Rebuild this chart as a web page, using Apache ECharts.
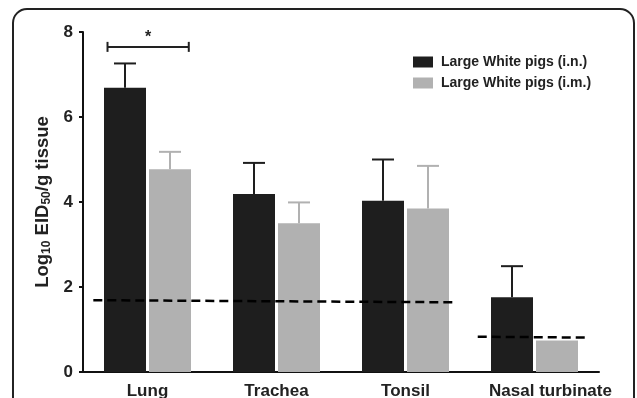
<!DOCTYPE html>
<html>
<head>
<meta charset="utf-8">
<script src="https://cdn.jsdelivr.net/npm/echarts@6/dist/echarts.min.js"></script>
<style>html,body{margin:0;padding:0;background:#fff}#c{width:637px;height:398px}</style>
</head>
<body>
<div id="c"></div>
<script>
var categories = ['Lung', 'Trachea', 'Tonsil', 'Nasal turbinate'];
var seriesNames = ['Large White pigs (i.n.)', 'Large White pigs (i.m.)'];
var inMeans = [6.69, 4.19, 4.03, 1.76];
var inErrTop = [7.26, 4.92, 5.00, 2.49];
var imMeans = [4.77, 3.50, 3.85, 0.74];
var imErrTop = [5.18, 3.99, 4.85, null];
var yTicks = [0, 2, 4, 6, 8];
// detection-limit lines, in category-span coordinates (0..4)
var limitLine1 = [[0.08, 1.69], [2.88, 1.64]];
var limitLine2 = [[3.06, 0.83], [3.91, 0.81]];
// significance bracket (Lung i.n. vs i.m.)
var bracket = [[0.19, 7.65], [0.505, 7.65], [0.82, 7.65]];
var bracketLabel = '*';

var BLACK = '#1e1e1e', GRAY = '#b1b1b1';
var BAR_W = 42, GAP = 3;

function errSeries(means, tops, color, sign) {
  var data = [];
  for (var i = 0; i < means.length; i++) {
    if (tops[i] != null) data.push([i, means[i], tops[i]]);
  }
  return {
    type: 'custom',
    xAxisIndex: 0, yAxisIndex: 0,
    z: 1,
    data: data,
    renderItem: function (params, api) {
      var c = api.value(0);
      var p0 = api.coord([c, api.value(1)]);
      var p1 = api.coord([c, api.value(2)]);
      var x = p0[0] + sign * (BAR_W / 2 + GAP / 2);
      var hw = 11;
      var st = {stroke: color, lineWidth: 2};
      return {
        type: 'group',
        children: [
          {type: 'line', shape: {x1: x, y1: p0[1], x2: x, y2: p1[1]}, style: st},
          {type: 'line', shape: {x1: x - hw, y1: p1[1], x2: x + hw, y2: p1[1]}, style: st}
        ]
      };
    }
  };
}

var chart = echarts.init(document.getElementById('c'));
var fontFam = 'Liberation Sans, Arial, sans-serif';
chart.setOption({
  animation: false,
  backgroundColor: '#fff',
  grid: {left: 83, right: 38, top: 32, bottom: 26, containLabel: false, outerBoundsMode: 'none'},
  legend: {
    data: seriesNames,
    orient: 'vertical',
    left: 413, top: 55, padding: 0,
    itemWidth: 20, itemHeight: 11, itemGap: 7,
    icon: 'rect',
    textStyle: {fontFamily: fontFam, fontWeight: 'bold', fontSize: 14, color: '#222', padding: [0, 0, 0, 3]}
  },
  graphic: [{
    type: 'rect', z: 100,
    shape: {x: 13, y: 9, width: 621, height: 430, r: 14},
    style: {fill: 'none', stroke: '#222', lineWidth: 2}
  }],
  xAxis: [{
    type: 'category',
    data: categories,
    axisLine: {lineStyle: {color: '#111', width: 2}},
    axisTick: {alignWithLabel: true, length: 4, lineStyle: {color: '#111', width: 2}},
    axisLabel: {
      interval: 0, margin: 11,
      formatter: function (v, i) { return i === 3 ? '{n|' + v + '}' : '{a|' + v + '}'; },
      rich: {
        a: {fontFamily: fontFam, fontWeight: 'bold', fontSize: 17, color: '#222'},
        n: {fontFamily: fontFam, fontWeight: 'bold', fontSize: 17, color: '#222', padding: [0, 0, 0, 32]}
      }
    }
  }, {
    type: 'value', min: 0, max: 4, show: false
  }],
  yAxis: {
    type: 'value', min: yTicks[0], max: yTicks[yTicks.length - 1], interval: 2,
    axisLine: {show: true, lineStyle: {color: '#111', width: 2}},
    axisTick: {show: true, length: 4, lineStyle: {color: '#111', width: 2}},
    splitLine: {show: false},
    axisLabel: {fontFamily: fontFam, fontWeight: 'bold', fontSize: 17, color: '#222', margin: 10},
    name: '{a|Log}{s|10}{a| EID}{s|50}{a|/g tissue}',
    nameLocation: 'middle', nameRotate: 90, nameGap: 27,
    nameTextStyle: {
      rich: {
        a: {fontFamily: fontFam, fontWeight: 'bold', fontSize: 18.5, color: '#222'},
        s: {fontFamily: fontFam, fontWeight: 'bold', fontSize: 12, color: '#222', verticalAlign: 'bottom', padding: [7, 0, 0, 0]}
      }
    }
  },
  series: [
    {name: seriesNames[0], type: 'bar', data: inMeans, barWidth: BAR_W, barGap: (GAP / BAR_W * 100) + '%',
      itemStyle: {color: BLACK}, z: 2},
    {name: seriesNames[1], type: 'bar', data: imMeans, barWidth: BAR_W,
      itemStyle: {color: GRAY}, z: 2},
    errSeries(inMeans, inErrTop, BLACK, -1),
    errSeries(imMeans, imErrTop, GRAY, 1),
    {type: 'line', xAxisIndex: 1, data: limitLine1, symbol: 'none', z: 5,
      lineStyle: {color: '#000', width: 2.5, type: [9, 5]}},
    {type: 'line', xAxisIndex: 1, data: limitLine2, symbol: 'none', z: 5,
      lineStyle: {color: '#000', width: 2.5, type: [9, 5]}},
    {type: 'line', xAxisIndex: 1, data: bracket, z: 5,
      symbol: 'rect', symbolSize: function (v, p) { return p.dataIndex === 1 ? 0 : [2, 10]; },
      itemStyle: {color: '#222'},
      lineStyle: {color: '#222', width: 2},
      label: {show: true, position: 'top', distance: 1,
        formatter: function (p) { return p.dataIndex === 1 ? bracketLabel : ''; },
        fontFamily: fontFam, fontWeight: 'bold', fontSize: 16, color: '#222'}}
  ]
});
</script>
</body>
</html>
